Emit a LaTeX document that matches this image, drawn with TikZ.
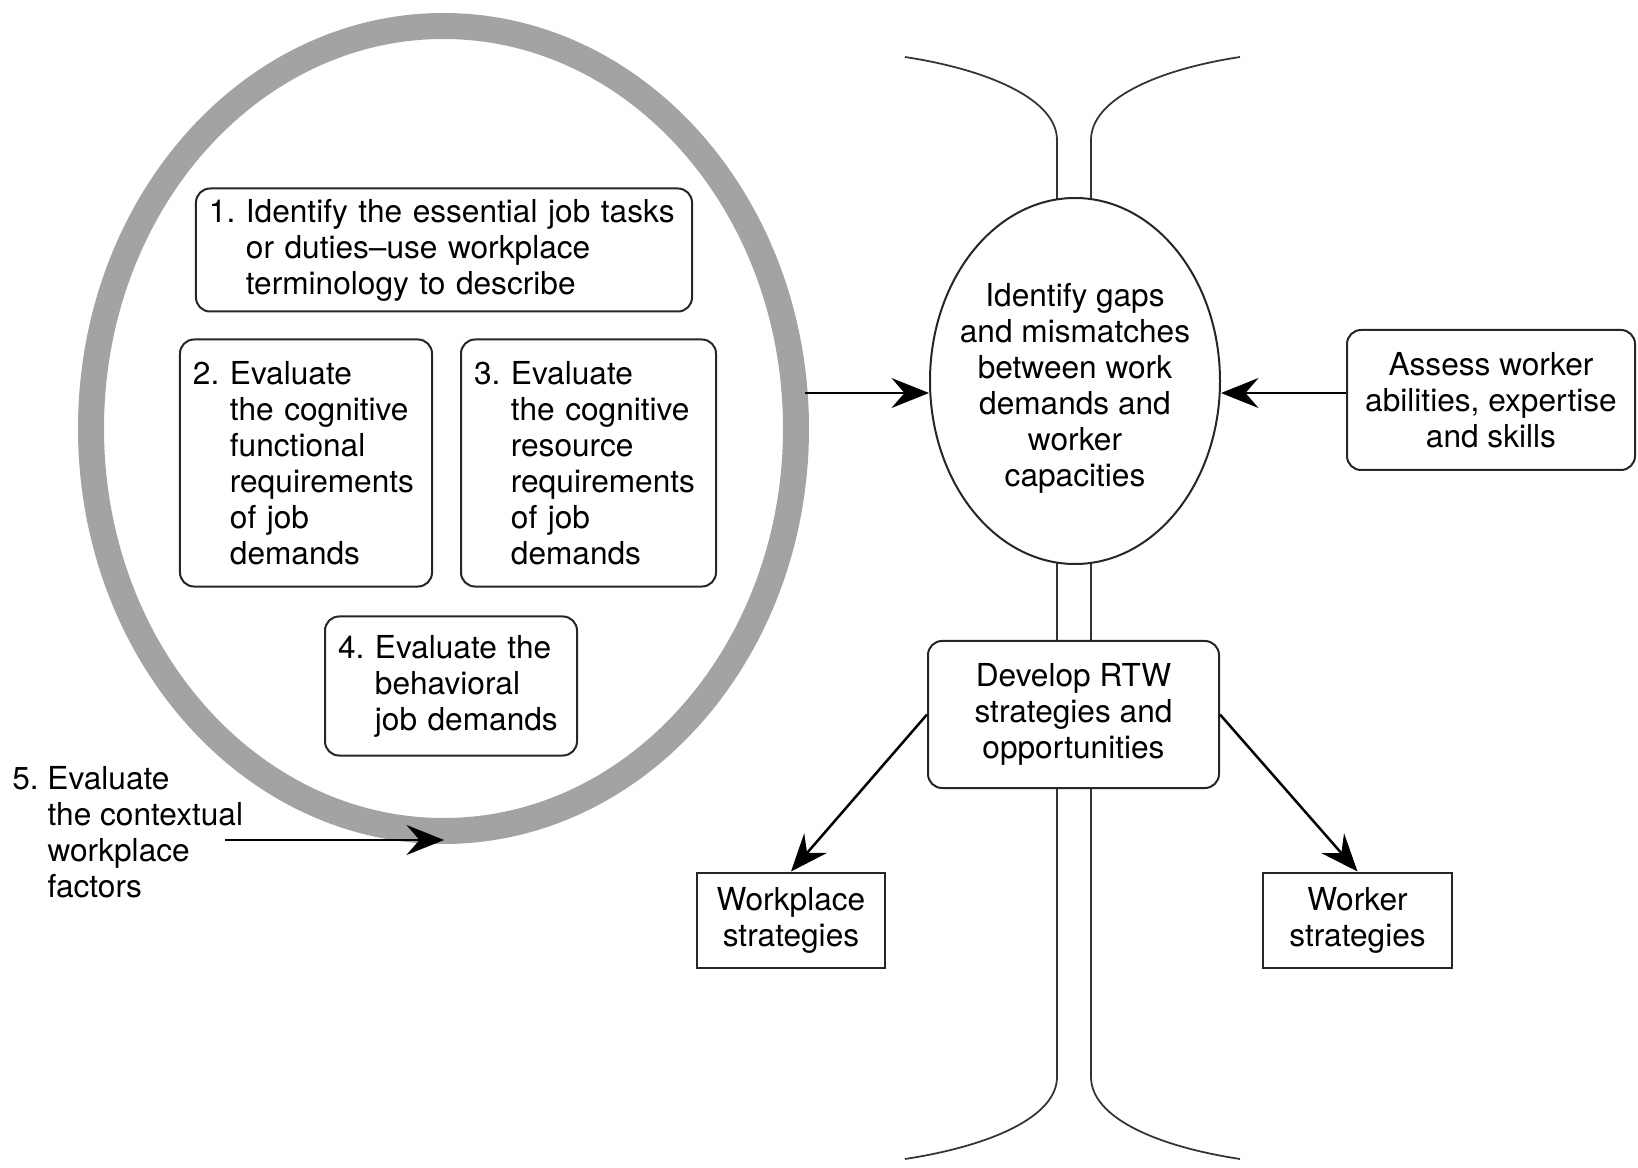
\documentclass[tikz,border=0pt]{standalone}
\usepackage{fontspec}
\setmainfont{TeX Gyre Heros}
\usepackage{xcolor}
\usepackage{tikz}
\usetikzlibrary{
  arrows.meta,
  positioning,
  calc,
  shapes}
\definecolor{ringgray}{RGB}{163,163,166}
\frenchspacing
\hyphenpenalty=10000
\exhyphenpenalty=10000
\newcommand{\ind}{\phantom{1. }}
\tikzset{task/.style={draw=black!85, line width=0.4mm, rounded corners=2.8mm, fill=white, align=left, inner xsep=2.6mm},
         roundbox/.style={draw=black!85, line width=0.4mm, rounded corners=2.8mm, fill=white, align=center},
         squarebox/.style={draw=black!85, line width=0.4mm, fill=white, align=center},
         tube/.style={line width=0.35mm, black!80},
         flow/.style={line width=0.5mm, ->}
        }

\begin{document}
\begin{tikzpicture}[x=0.2mm, y=-0.2mm,
  >={Stealth[length=7.5mm,width=6mm,inset=2.6mm]},
  every node/.style={font=\fontsize{18}{20.5}\selectfont}]
\useasboundingbox (0,0) rectangle (1638,1168);

%Spine
\draw[tube] (905,57) .. controls (990,70) and (1057,100) .. (1057,140) -- (1057,1077)
  .. controls (1057,1117) and (990,1146) .. (905,1159);
\draw[tube] (1240,57) .. controls (1155,70) and (1091,100) .. (1091,140) -- (1091,1077)
  .. controls (1091,1117) and (1155,1146) .. (1240,1159);

%Ring around the job demands
\draw[ringgray, line width=5.2mm] (443.5,428.5) ellipse [x radius=352.5, y radius=402.5];

\node[task, minimum width=99.2mm, minimum height=24.6mm, text width=94mm] (one) at (444,250)
  {1. Identify the essential job tasks\\\ind or duties--use workplace\\\ind terminology to describe};
\node[task, minimum width=50.4mm, minimum height=49.4mm, text width=45.2mm] (two) at (306,463)
  {2. Evaluate\\\ind the cognitive\\\ind functional\\\ind requirements\\\ind of job\\\ind demands};
\node[task, minimum width=51mm, minimum height=49.4mm, text width=45.8mm] (three) at (588.5,463)
  {3. Evaluate\\\ind the cognitive\\\ind resource\\\ind requirements\\\ind of job\\\ind demands};
\node[task, minimum width=50.4mm, minimum height=27.8mm, text width=45.2mm] (four) at (451,686)
  {4. Evaluate the\\\ind behavioral\\\ind job demands};
\node[anchor=north west, align=left, inner sep=0pt] (five) at (12,766)
  {5. Evaluate\\\ind the contextual\\\ind workplace\\\ind factors};

%Gaps
\node[ellipse, draw=black!85, line width=0.4mm, fill=white, minimum width=58mm, minimum height=73.2mm] (gaps) at (1075,381) {};
\node[align=center] (gapstext) at (1075,388) {Identify gaps\\and mismatches\\between work\\demands and\\worker\\capacities};

\node[roundbox, minimum width=57.6mm, minimum height=28mm] (assess) at (1491,400)
  {Assess worker\\abilities, expertise\\and skills};
\node[roundbox, minimum width=58.2mm, minimum height=29.4mm] (develop) at (1073.5,714.5)
  {Develop RTW\\strategies and\\opportunities};
\node[squarebox, minimum width=37.6mm, minimum height=19mm] (workplace) at (791,920)
  {Workplace\\strategies};
\node[squarebox, minimum width=37.8mm, minimum height=19mm] (worker) at (1357.5,920)
  {Worker\\strategies};

\coordinate (ringeast) at (805,393);
\coordinate (ringbot) at (444,840);
\coordinate (fivestart) at (225,840);

\draw[flow] (ringeast) -- (ringeast -| gaps.west);
\draw[flow] (assess.west |- ringeast) -- (ringeast -| gaps.east);
\draw[flow] (fivestart) -- (ringbot);
\draw[flow] (develop.west) -- (workplace.north);
\draw[flow] (develop.east) -- (worker.north);
\end{tikzpicture}
\end{document}
